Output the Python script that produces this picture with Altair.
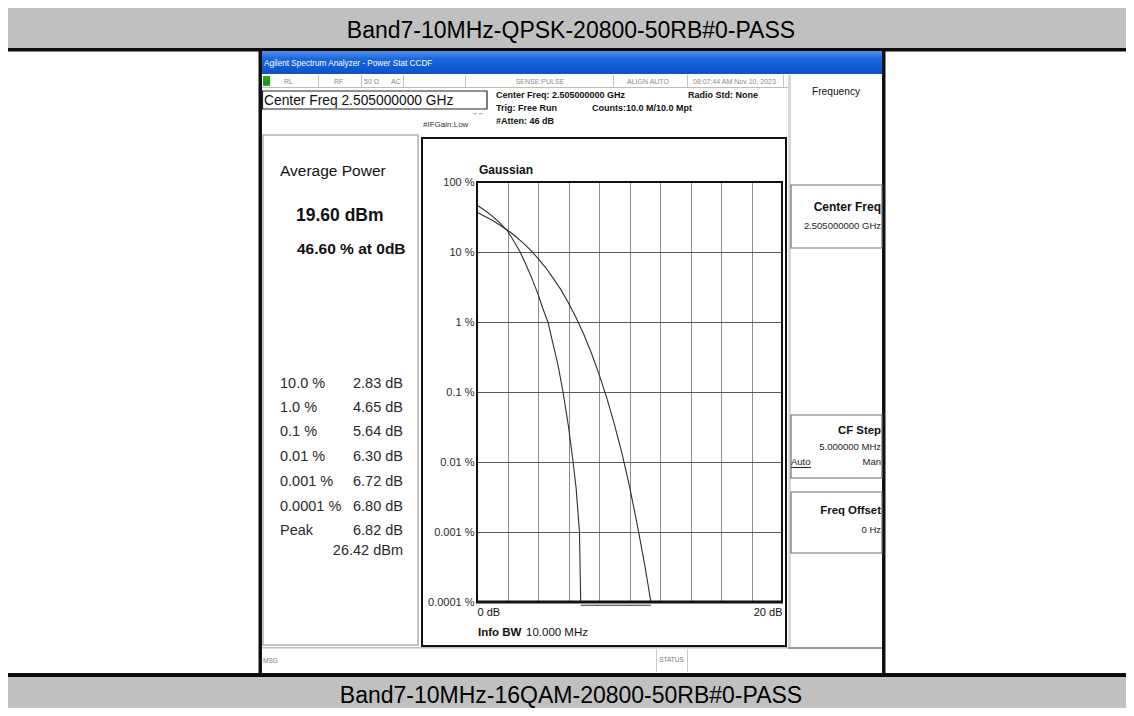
import altair as alt
import pandas as pd

# ---------------- values ----------------
gauss_db = [0, 0.5, 1, 1.5, 2, 2.5, 3, 3.5, 4, 4.5, 5, 5.5, 6, 6.5, 7, 7.5, 8,
            8.5, 9, 9.5, 10, 10.5, 11, 11.4]
gauss_pct = [37, 32.5, 28.4, 24.3, 20.5, 16.9, 13.6, 10.7, 8.1, 6.0, 4.2, 2.9,
             1.87, 1.15, 0.67, 0.36, 0.18, 0.084, 0.035, 0.0135, 0.0045,
             0.0013, 0.00034, 0.0001]
meas_db = [0, 0.5, 1.0, 1.5, 2.0, 2.4, 2.83, 3.2, 3.6, 4.0, 4.3, 4.65, 5.0,
           5.3, 5.64, 6.0, 6.3, 6.5, 6.72, 6.8]
meas_pct = [46.6, 39.5, 32.5, 26.0, 20.0, 14.5, 10.0, 6.7, 4.2, 2.5, 1.6, 1.0,
            0.47, 0.25, 0.1, 0.032, 0.01, 0.0042, 0.001, 0.0001]
floor_db = [6.8, 11.4]
floor_pct = [0.00009, 0.00009]

x_ticks = [0, 2, 4, 6, 8, 10, 12, 14, 16, 18, 20]
x_tick_text = ["0 dB", "", "", "", "", "", "", "", "", "", "20 dB"]
y_ticks = [100, 10, 1, 0.1, 0.01, 0.001, 0.0001]
y_tick_text = ["100 %", "10 %", "1 %", "0.1 %", "0.01 %", "0.001 %", "0.0001 %"]

stat_labels = ["10.0 %", "1.0 %", "0.1 %", "0.01 %", "0.001 %", "0.0001 %", "Peak"]
stat_values = ["2.83 dB", "4.65 dB", "5.64 dB", "6.30 dB", "6.72 dB", "6.80 dB", "6.82 dB"]
peak_dbm = "26.42 dBm"
avg_power = "19.60 dBm"
pct_at_0 = "46.60 % at 0dB"

caption_top = "Band7-10MHz-QPSK-20800-50RB#0-PASS"
caption_bottom = "Band7-10MHz-16QAM-20800-50RB#0-PASS"

# ---------------- layout ----------------
FONT = "Liberation Sans, Arial, sans-serif"
PX0, PY0, PW, PH = 477, 182, 305, 420   # plot area in page pixels
PAGE = 8
ONE = pd.DataFrame({"k": [0]})


def R(x1, y1, x2, y2, fill="transparent", stroke=None, sw=1.0):
    kw = dict(fill=fill)
    if stroke:
        kw.update(stroke=stroke, strokeWidth=sw)
    return alt.Chart(ONE).mark_rect(**kw).encode(
        x=alt.value(x1 - PX0), x2=alt.value(x2 - PX0),
        y=alt.value(y1 - PY0), y2=alt.value(y2 - PY0))


def T(s, x, y, size, weight="normal", align="left", color="#111",
      baseline="middle", font=FONT):
    return alt.Chart(ONE).mark_text(
        text=s, fontSize=size, fontWeight=weight, align=align,
        baseline=baseline, color=color, font=font).encode(
        x=alt.value(x - PX0), y=alt.value(y - PY0))


def label_expr(vals, texts):
    e = "''"
    for v, t in zip(reversed(vals), reversed(texts)):
        e = f"datum.value == {v} ? '{t}' : ({e})"
    return e


layers = []
# table rows
layers += [
    R(0, 7, 1134, 48, fill="#c0c0c0"),
    R(0, 48, 1134, 51.5, fill="#0d0d0d"),
    T(caption_top, 571, 38, 23, align="center", baseline="alphabetic", color="#000"),
    R(0, 673, 1134, 677, fill="#0d0d0d"),
    R(0, 677, 1134, 716, fill="#c0c0c0"),
    T(caption_bottom, 571, 703, 23, align="center", baseline="alphabetic", color="#000"),
]
# screenshot frame
title_grad = alt.LinearGradient(
    gradient="linear", x1=0, x2=0, y1=0, y2=1,
    stops=[alt.GradientStop(offset=0, color="#4a8ef0"),
           alt.GradientStop(offset=0.35, color="#1a64de"),
           alt.GradientStop(offset=1, color="#0b52c8")])
layers += [
    R(258.5, 51, 262, 673, fill="#111"),
    R(882, 51, 885.5, 673, fill="#111"),
    R(262, 51.5, 882, 74, fill=title_grad),
    T("Agilent Spectrum Analyzer - Power Stat CCDF", 264, 63.5, 8.2, color="#fff"),
    R(262, 87, 788, 88, fill="#cdb9a8"),
    R(263, 76, 270, 86, fill="#1eaa1e"),
    T("LX", 264, 81.5, 5.5, color="#063"),
]
for sx in [318, 361, 403, 465, 613, 687, 783]:
    layers.append(R(sx, 75, sx + 1, 87, fill="#c4c4c4"))
for s, sx, al in [("RL", 284, "left"), ("RF", 334, "left"), ("50 Ω", 364, "left"),
                  ("AC", 391, "left"), ("SENSE:PULSE", 540, "center"),
                  ("ALIGN AUTO", 648, "center"), ("08:07:44 AM Nov 10, 2023", 693, "left")]:
    layers.append(T(s, sx, 82, 7, align=al, color="#8a8a8a"))

# measurement header
layers += [
    R(262.5, 91, 487, 109, stroke="#222", sw=1.2),
    T("Center Freq 2.505000000 GHz", 264, 100.5, 13.8, color="#111"),
    T("Center Freq: 2.505000000 GHz", 496, 95, 9, weight="bold"),
    T("Radio Std: None", 688, 95, 9, weight="bold"),
    T("Trig: Free Run", 496, 108, 9, weight="bold"),
    T("Counts:10.0 M/10.0 Mpt", 592, 108, 9, weight="bold"),
    T("#Atten: 46 dB", 496, 121, 9, weight="bold"),
    T("#IFGain:Low", 423, 125, 8, color="#333"),
    T("→←", 478, 113, 7, align="center", color="#333"),
]
# panels
layers += [
    R(263, 135, 418, 645, stroke="#b0b0b0", sw=1.5),
    R(422, 138, 786, 646, stroke="#111", sw=2),
    R(788, 75, 791, 648, fill="#d9d9d9"),
    R(791, 185, 882, 248, stroke="#707070", sw=1.2),
    R(791, 415, 882, 478, stroke="#707070", sw=1.2),
    R(791, 492, 882, 553, stroke="#707070", sw=1.2),
    R(788, 647, 882, 649, fill="#9a9a9a"),
    R(262, 647, 788, 648.5, fill="#c0c0c0"),
    R(656, 649, 657, 672, fill="#c8c8c8"),
    R(687, 649, 688, 672, fill="#c8c8c8"),
    T("MSG", 263, 661, 6.5, color="#777"),
    T("STATUS", 671.5, 660, 6.5, align="center", color="#777"),
]
# soft keys
layers += [
    T("Frequency", 836, 92, 10.2, align="center"),
    T("Center Freq", 881, 207, 12, weight="bold", align="right"),
    T("2.505000000 GHz", 881, 226, 9.5, align="right", color="#222"),
    T("CF Step", 881, 431, 11.4, weight="bold", align="right"),
    T("5.000000 MHz", 881, 447, 9.5, align="right", color="#222"),
    T("Auto", 791, 462, 9.5, color="#222"),
    R(791, 467, 811, 468, fill="#222"),
    T("Man", 881, 462, 9.5, align="right", color="#222"),
    T("Freq Offset", 881, 511, 11.4, weight="bold", align="right"),
    T("0 Hz", 881, 530, 9.5, align="right", color="#222"),
]
# left result panel
layers += [
    T("Average Power", 280, 171, 15.5, color="#111"),
    T(avg_power, 296, 216, 17.5, weight="bold", color="#111"),
    T(pct_at_0, 297, 249, 15.5, weight="bold", color="#111"),
]
row_y = [384, 408, 432, 457, 482, 507, 531]
for lab, val, yy in zip(stat_labels, stat_values, row_y):
    layers.append(T(lab, 280, yy, 14.5, color="#2a2a2a"))
    layers.append(T(val, 403, yy, 14.5, align="right", color="#2a2a2a"))
layers.append(T(peak_dbm, 403, 551, 14.5, align="right", color="#2a2a2a"))

# graph labels
layers += [
    T("Gaussian", 479, 170, 12, weight="bold"),
    T("Info BW", 478, 633, 11.5, weight="bold"),
    T("10.000 MHz", 526, 633, 11.5),
]

# ---------------- CCDF curves through the scales ----------------
curves = pd.DataFrame({
    "db": gauss_db + meas_db + floor_db,
    "pct": gauss_pct + meas_pct + floor_pct,
    "series": ["Gaussian"] * len(gauss_db) + ["Measured"] * len(meas_db)
              + ["Floor"] * len(floor_db),
})

lines = alt.Chart(curves).mark_line(color="#2e2e2e", strokeWidth=1.1).encode(
    x=alt.X("db:Q", scale=alt.Scale(domain=[0, 20], nice=False, zero=False),
            axis=alt.Axis(values=x_ticks, grid=True, gridColor="#8c8c8c",
                          gridWidth=1, domain=False, ticks=False, title=None,
                          labelExpr=label_expr(x_ticks, x_tick_text),
                          labelFontSize=11, labelColor="#111", labelPadding=4,
                          labelOverlap=False, labelFlush=True)),
    y=alt.Y("pct:Q", scale=alt.Scale(type="log", domain=[0.0001, 100], nice=False),
            axis=alt.Axis(values=y_ticks, grid=True, gridColor="#5a5a5a",
                          gridWidth=1, domain=False, ticks=False, title=None,
                          labelExpr=label_expr(y_ticks, y_tick_text),
                          labelFontSize=11, labelColor="#2a2a2a", labelPadding=3,
                          labelOverlap=False)),
    detail="series:N",
)
layers.append(lines)

frame = alt.Chart(ONE).mark_rect(fill="transparent", stroke="#111", strokeWidth=2).encode(
    x=alt.value(0), x2=alt.value("width"), y=alt.value(0), y2=alt.value("height"))
layers.append(frame)
layers.append(R(PX0 - 1, PY0 + PH - 1.5, PX0 + PW + 1, PY0 + PH + 1.5, fill="#111"))

chart = alt.layer(*layers).properties(
    width=PW, height=PH,
    padding={"left": PX0 - PAGE, "top": PY0 - PAGE,
             "right": 1126 - (PX0 + PW), "bottom": 708 - (PY0 + PH)},
    autosize=alt.AutoSizeParams(type="none"),
    background="white",
).configure_view(strokeWidth=0).configure_axis(labelFont=FONT)

chart.save("out.html", embed_options={"renderer": "svg", "actions": False})
